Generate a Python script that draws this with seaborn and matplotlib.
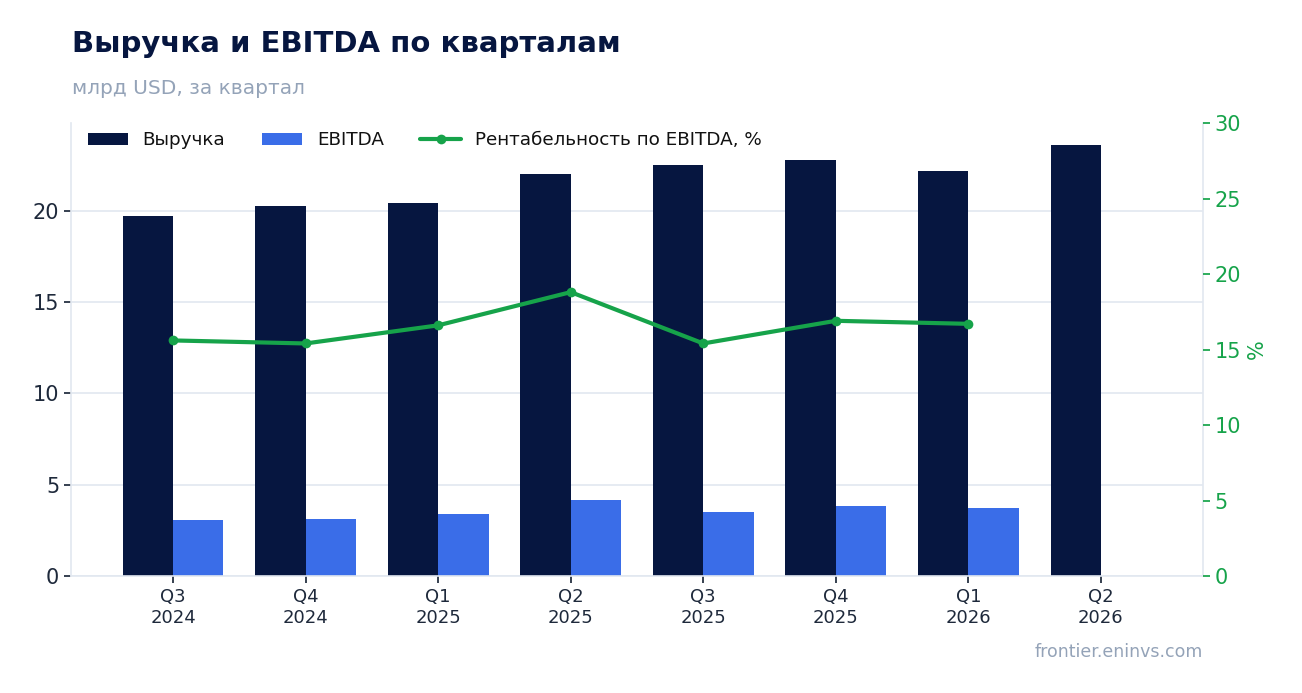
import matplotlib
matplotlib.use("Agg")
import matplotlib.pyplot as plt
import pandas as pd
import seaborn as sns

quarters = ["Q3\n2024", "Q4\n2024", "Q1\n2025", "Q2\n2025",
            "Q3\n2025", "Q4\n2025", "Q1\n2026", "Q2\n2026"]
revenue = [19.73, 20.27, 20.44, 22.03, 22.52, 22.79, 22.19, 23.62]
ebitda = [3.07, 3.12, 3.40, 4.16, 3.51, 3.84, 3.73, None]
margin = [15.6, 15.4, 16.6, 18.8, 15.4, 16.9, 16.7, None]

NAVY = "#061640"
BLUE = "#3a6de8"
GREEN = "#16a34a"
LIGHT = "#e2e8f0"
GRAY = "#94a3b8"

sns.set_theme(style="white")
plt.rcParams["font.family"] = ["DejaVu Sans"]

bars = pd.DataFrame({
    "quarter": quarters * 2,
    "value": revenue + ebitda,
    "series": ["Выручка"] * len(quarters) + ["EBITDA"] * len(quarters),
})
line = pd.DataFrame({"quarter": quarters, "margin": margin}).dropna()

fig = plt.figure(figsize=(13.02, 6.93), dpi=100)
ax = fig.add_axes([71 / 1302, 1 - 576 / 693, (1203 - 71) / 1302, (576 - 123) / 693])

sns.barplot(data=bars, x="quarter", y="value", hue="series",
            palette=[NAVY, BLUE], width=0.76, gap=0, saturation=1,
            linewidth=0, ax=ax, legend=True)
ax.set_xlim(-0.77, len(quarters) - 1 + 0.77)
ax.set_ylim(0, 24.8)
ax.set_yticks([0, 5, 10, 15, 20])
ax.yaxis.grid(True, color=LIGHT, linewidth=1.2)
ax.set_axisbelow(True)
ax.set_xlabel("")
ax.set_ylabel("")
ax.tick_params(axis="y", labelsize=15, colors="#1e293b", length=5, left=True)
ax.tick_params(axis="x", labelsize=13, colors="#1e293b", length=5, bottom=True)
for side in ["left", "bottom", "right"]:
    ax.spines[side].set_color(LIGHT)
    ax.spines[side].set_linewidth(1.2)
ax.spines["top"].set_visible(False)

ax2 = ax.twinx()
sns.lineplot(data=line, x="quarter", y="margin", color=GREEN, linewidth=3,
             marker="o", markersize=7, markeredgewidth=0, ax=ax2,
             label="Рентабельность по EBITDA, %", legend=False)
ax2.set_ylim(0, 30)
ax2.set_yticks([0, 5, 10, 15, 20, 25, 30])
ax2.set_ylabel("%", color=GREEN, fontsize=15)
ax2.tick_params(axis="y", labelsize=15, colors=GREEN, length=5, right=True)
for side in ["left", "bottom", "top", "right"]:
    ax2.spines[side].set_visible(False)
ax2.grid(False)

h1, l1 = ax.get_legend_handles_labels()
h2, l2 = ax2.get_legend_handles_labels()
leg = ax.legend(h1 + h2, l1 + l2, loc="upper left", ncol=3, frameon=False,
                fontsize=13.2, bbox_to_anchor=(0.0, 1.018), handlelength=2.2,
                columnspacing=2.0)
for t in leg.get_texts():
    t.set_color("#111111")

fig.text(72 / 1302, 1 - 44 / 693, "Выручка и EBITDA по кварталам",
         fontsize=21, fontweight="bold", color=NAVY, va="center")
fig.text(72 / 1302, 1 - 88 / 693, "млрд USD, за квартал",
         fontsize=14.5, color=GRAY, va="center")
fig.text(1203 / 1302, 1 - 652 / 693, "frontier.eninvs.com",
         fontsize=12.5, color=GRAY, ha="right", va="center")

fig.savefig("out.png", dpi=100)
